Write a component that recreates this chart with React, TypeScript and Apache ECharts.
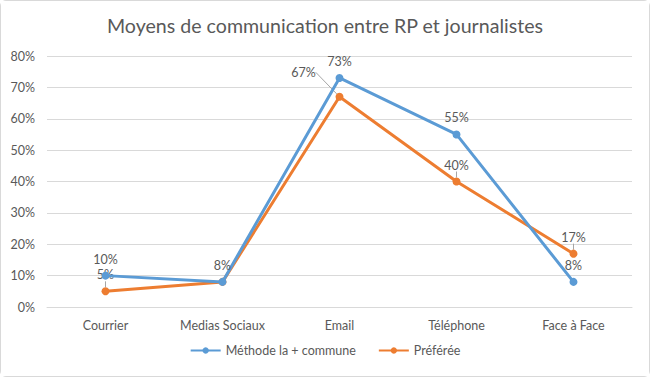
import React, { useEffect, useRef } from "react";
import * as echarts from "echarts";

const categories = ["Courrier", "Medias Sociaux", "Email", "Téléphone", "Face à Face"];
const seriesNames = ["Méthode la + commune", "Préférée"];
const communeValues = [10, 8, 73, 55, 8];
const prefereeValues = [5, 8, 67, 40, 17];
const yTicks = { min: 0, max: 80, interval: 10 };

const FONT = "Lato, 'Open Sans', sans-serif";
const TXT = "#595959";

export default function App() {
  const ref = useRef<HTMLDivElement>(null);
  useEffect(() => {
    if (!ref.current) return;
    const chart = echarts.init(ref.current, undefined, { renderer: "svg" });
    const labelStyle = { show: true, position: "top", distance: 6, color: TXT, fontSize: 12.5, fontFamily: FONT, formatter: (p: any) => p.value + "%" };
    chart.setOption({
      animation: false,
      backgroundColor: "#fff",
      textStyle: { fontFamily: FONT },
      title: {
        text: "Moyens de communication entre RP et journalistes",
        left: "center",
        top: 9,
        textStyle: { color: TXT, fontSize: 19.6, fontWeight: "normal", fontFamily: FONT },
      },
      legend: {
        bottom: 14,
        left: "center",
        itemWidth: 30,
        itemHeight: 8,
        itemGap: 22,
        textStyle: { color: TXT, fontSize: 12.5, fontFamily: FONT },
        data: seriesNames,
      },
      grid: { left: 46, right: 17, top: 55, bottom: 69, containLabel: false },
      xAxis: {
        type: "category",
        data: categories,
        axisLine: { show: true, lineStyle: { color: "#d9d9d9" } },
        axisTick: { show: false },
        axisLabel: { color: TXT, fontSize: 12.5, fontFamily: FONT, margin: 12 },
      },
      yAxis: {
        type: "value",
        min: yTicks.min,
        max: yTicks.max,
        interval: yTicks.interval,
        axisLine: { show: false },
        axisTick: { show: false },
        splitLine: { lineStyle: { color: "#d9d9d9" } },
        axisLabel: { color: TXT, fontSize: 12.5, fontFamily: FONT, margin: 12, formatter: "{value}%" },
      },
      series: [
        {
          name: seriesNames[0],
          type: "line",
          data: communeValues,
          symbol: "circle",
          symbolSize: 8,
          itemStyle: { color: "#5B9BD5" },
          lineStyle: { width: 3, color: "#5B9BD5" },
          label: labelStyle,
          z: 3,
        },
        {
          name: seriesNames[1],
          type: "line",
          data: prefereeValues.map((v, i) => (i === 1 ? { value: v, label: { show: false } } : v)),
          symbol: "circle",
          symbolSize: 8,
          itemStyle: { color: "#ED7D31" },
          lineStyle: { width: 3, color: "#ED7D31" },
          label: labelStyle,
          labelLine: { show: true, lineStyle: { color: "#a6a6a6", width: 1 } },
          labelLayout: (p: any) => (p.dataIndex === 2 ? { dx: -36, dy: -8 } : {}),
          z: 2,
        },
      ],
    });
    return () => chart.dispose();
  }, []);
  return (
    <div
      ref={ref}
      style={{ position: "fixed", left: 0, top: 0, width: 650, height: 377, boxSizing: "border-box", border: "1px solid #d9d9d9", borderRadius: 6 }}
    />
  );
}
